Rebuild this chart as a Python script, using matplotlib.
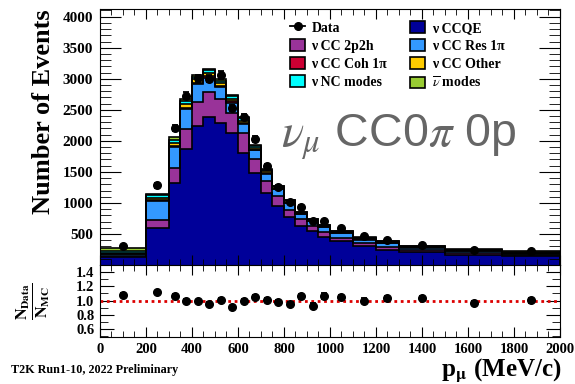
import numpy as np
import matplotlib
matplotlib.use('Agg')
import matplotlib.pyplot as plt
from matplotlib.patches import Patch
from matplotlib.lines import Line2D
from matplotlib.ticker import MultipleLocator

plt.rcParams['mathtext.fontset'] = 'stix'
SERIF = 'Liberation Serif'

# bin edges in muon momentum (MeV/c)
edges = [0, 200, 300, 350, 400, 450, 500, 550, 600, 650, 700, 750, 800,
         850, 900, 950, 1000, 1100, 1200, 1300, 1500, 1750, 2000]

# MC components (events), stacked bottom to top
ccqe   = [130, 600, 1320, 1870, 2240, 2380, 2290, 2125, 1810, 1480, 1165, 955,
          775, 635, 545, 455, 380, 300, 248, 205, 165, 140]
cc2p2h = [10, 130, 250, 320, 390, 400, 390, 320, 310, 230, 185, 150,
          115, 105, 90, 72, 58, 55, 40, 35, 25, 20]
res1pi = [30, 300, 330, 320, 280, 240, 180, 170, 150, 135, 120, 115,
          108, 80, 70, 80, 75, 55, 65, 40, 32, 25]
coh1pi = [2, 15, 20, 25, 25, 25, 20, 20, 15, 10, 10, 8,
          8, 6, 5, 5, 4, 4, 3, 2, 2, 2]
ccother = [25, 40, 50, 55, 55, 55, 50, 45, 40, 35, 30, 25,
           22, 16, 15, 15, 15, 15, 15, 12, 10, 10]
ncmodes = [30, 40, 50, 55, 45, 35, 40, 40, 35, 30, 25, 20,
           18, 14, 14, 12, 12, 12, 10, 8, 8, 8]
nubar  = [50, 20, 35, 35, 25, 20, 25, 25, 20, 15, 10, 7,
          6, 4, 5, 5, 6, 15, 12, 12, 13, 13]

# data
data_x   = [100, 250, 325, 375, 425, 475, 525, 575, 625, 675, 725, 775,
            825, 875, 925, 975, 1050, 1150, 1250, 1400, 1625, 1875]
data_y   = [301, 1288, 2205, 2725, 3010, 3000, 3062, 2527, 2382, 2028, 1588, 1255,
            1009, 934, 703, 703, 597, 462, 408, 328, 248, 232]
data_err = [12, 40, 50, 55, 58, 58, 58, 52, 50, 48, 42, 38,
            34, 32, 28, 28, 20, 18, 17, 11, 9, 9]

# data / MC ratio
ratio     = [1.083, 1.116, 1.07, 1.0, 0.99, 0.954, 1.014, 0.91, 1.0, 1.05, 1.014, 0.977,
             0.954, 1.06, 0.93, 1.06, 1.05, 0.995, 1.03, 1.037, 0.968, 1.005]
ratio_err = [0.02, 0.02, 0.02, 0.02, 0.02, 0.02, 0.02, 0.02, 0.02, 0.025, 0.025, 0.03,
             0.03, 0.035, 0.035, 0.04, 0.03, 0.035, 0.04, 0.03, 0.03, 0.035]

layers = [ccqe, cc2p2h, res1pi, coh1pi, ccother, ncmodes, nubar]
colors = ['#000099', '#993399', '#3399ff', '#cc0033', '#ffcc00', '#00ffff', '#99cc33']

fig = plt.figure(figsize=(5.75, 3.84), dpi=100)
ax = fig.add_axes([0.1739, 0.3099, 0.8, 0.6667])
rax = fig.add_axes([0.1739, 0.1211, 0.8, 0.1888])

# stacked histogram with black outlines
base = np.zeros(len(ccqe))
for vals, c in zip(layers, colors):
    top = base + np.array(vals)
    ax.stairs(top, edges, baseline=base, fill=True, color=c, lw=0)
    base = top
base = np.zeros(len(ccqe))
for vals in layers:
    top = base + np.array(vals)
    ax.stairs(top, edges, baseline=0, color='k', lw=1.2)
    base = top

ax.errorbar(data_x, data_y, yerr=data_err, fmt='o', color='k', ms=5.5,
            elinewidth=1.3, capsize=2, capthick=1.3, zorder=5)

ax.set_xlim(0, 2000)
ax.set_ylim(0, 4124)
ax.xaxis.set_major_locator(MultipleLocator(200))
ax.xaxis.set_minor_locator(MultipleLocator(50))
ax.yaxis.set_major_locator(MultipleLocator(500))
ax.yaxis.set_minor_locator(MultipleLocator(100))
ax.tick_params(axis='both', which='both', direction='in', top=True, right=True)
ax.tick_params(axis='x', which='major', length=7, labelbottom=False)
ax.tick_params(axis='x', which='minor', length=4)
ax.tick_params(axis='y', which='major', length=15, labelsize=11, pad=5)
ax.tick_params(axis='y', which='minor', length=8)
ax.set_yticks([500, 1000, 1500, 2000, 2500, 3000, 3500, 4000])
for lab in ax.get_yticklabels():
    lab.set_fontfamily(SERIF)
    lab.set_fontweight('bold')

# legend
h_data = Line2D([], [], color='k', marker='o', ms=5.5, lw=1.3)
def box(c):
    return Patch(facecolor=c, edgecolor='k', lw=1.2)
handles = [h_data, box(colors[1]), box(colors[3]), box(colors[5]),
           box(colors[0]), box(colors[2]), box(colors[4]), box(colors[6])]
labels = ['Data', 'ν CC 2p2h', 'ν CC Coh 1π', 'ν NC modes',
          'ν CCQE', 'ν CC Res 1π', 'ν CC Other', r'$\overline{\nu}$ modes']
ax.legend(handles, labels, ncol=2, loc='upper left', bbox_to_anchor=(0.395, 0.985),
          frameon=False, prop={'family': SERIF, 'weight': 'bold', 'size': 10},
          handlelength=1.1, handleheight=0.9, handletextpad=0.45,
          columnspacing=1.65, labelspacing=0.32, borderaxespad=0.2)

ax.text(0.393, 0.461, r'$\nu_{\mu}$ CC0$\pi$ 0p', transform=ax.transAxes,
        fontsize=33.5, color='#666666', family='Liberation Sans', va='baseline')

# ratio panel
rax.errorbar(data_x, ratio, yerr=ratio_err, fmt='o', color='k', ms=5.5,
             elinewidth=1.3, capsize=2, capthick=1.3, zorder=5)
rax.axhline(1.0, color='#dd0000', ls=(0, (1, 1.3)), lw=2)
rax.set_xlim(0, 2000)
rax.set_ylim(0.48, 1.5)
rax.xaxis.set_major_locator(MultipleLocator(200))
rax.xaxis.set_minor_locator(MultipleLocator(50))
rax.set_yticks([0.6, 0.8, 1.0, 1.2, 1.4])
rax.yaxis.set_minor_locator(MultipleLocator(0.1))
rax.tick_params(axis='both', which='both', direction='in', top=True, right=True)
rax.tick_params(axis='x', which='major', length=7, labelsize=10.5, pad=4)
rax.tick_params(axis='x', which='minor', length=4)
rax.tick_params(axis='y', which='major', length=10, labelsize=10.5, pad=4)
rax.tick_params(axis='y', which='minor', length=6)
rax.set_yticklabels(['0.6', '0.8', '1.0', '1.2', '1.4'])
for lab in rax.get_xticklabels() + rax.get_yticklabels():
    lab.set_fontfamily(SERIF)
    lab.set_fontweight('bold')

# axis titles and notes
fig.text(0.075, 0.708, 'Number of Events', rotation=90, ha='center', va='center',
         family=SERIF, weight='bold', fontsize=19)
fig.text(0.058, 0.216, r'$\frac{\mathbf{N}_{\mathbf{Data}}}{\mathbf{N}_{\mathbf{MC}}}$',
         rotation=90, ha='center', va='center', fontsize=16.5)
fig.text(0.977, 0.036, r'p$_{\mathbf{\mu}}$ (MeV/c)', ha='right', va='center',
         family=SERIF, weight='bold', fontsize=18)
fig.text(0.019, 0.036, 'T2K Run1-10, 2022 Preliminary', ha='left', va='center',
         family=SERIF, weight='bold', fontsize=8.7)

fig.savefig('out.png', dpi=100)
